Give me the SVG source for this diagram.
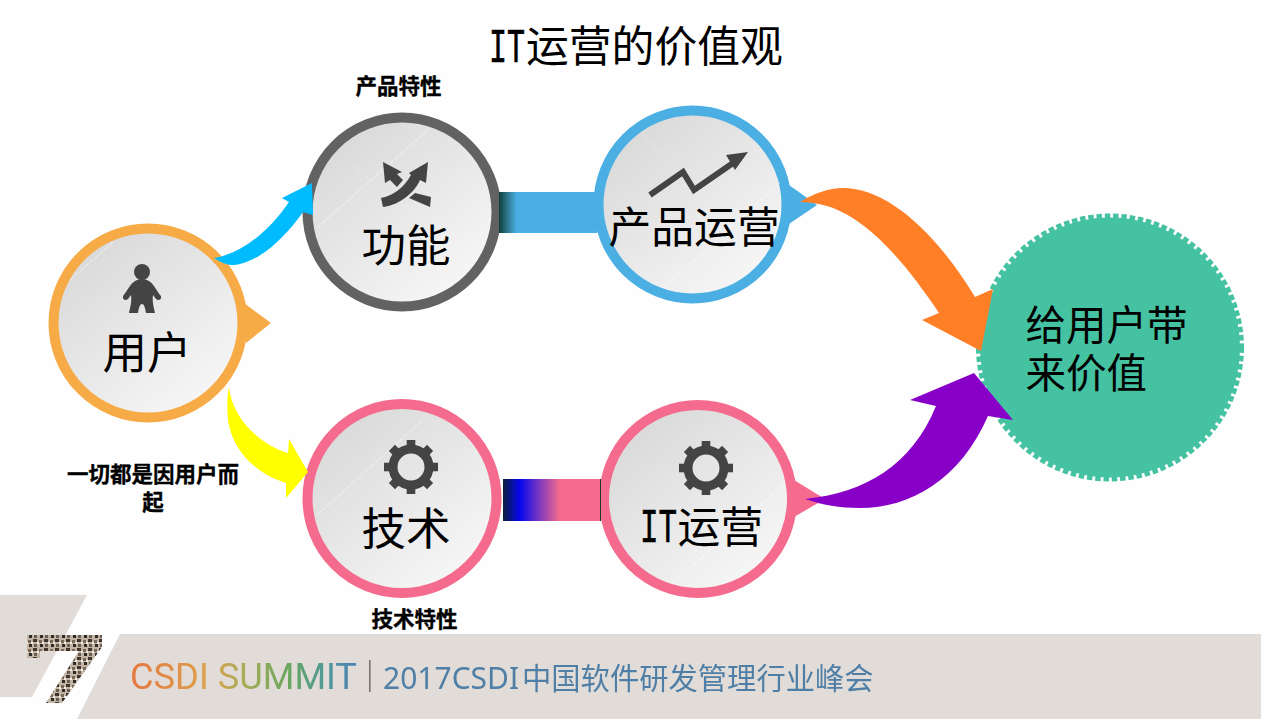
<svg xmlns="http://www.w3.org/2000/svg" width="1279" height="719" viewBox="0 0 1279 719">
<style>
.cn{font-family:"Noto Sans CJK SC","Liberation Sans",sans-serif;fill:#000}
.big{font-size:42.800px}
.two{font-size:44.500px}
.tag{font-size:21.500px;font-weight:700;text-anchor:middle;stroke:#000;stroke-width:.35}
.it{font-family:"Liberation Mono","Noto Sans CJK SC",monospace;fill:#000;stroke:#000;stroke-width:.7}
.disc{fill:url(#disc);stroke-width:10}
.glint{stroke:#fff;stroke-width:.8;fill:none;stroke-opacity:.8;stroke-dasharray:5 1.5}
.glint2{stroke:#fff;stroke-width:.6;fill:none;stroke-opacity:.45}
.icon{fill:#444}
.iline{fill:none;stroke:#444}
</style>
<defs>
<linearGradient id="disc" x1="0.15" y1="0.1" x2="0.85" y2="0.95">
<stop offset="0" stop-color="#d9d9d9"/><stop offset="1" stop-color="#f8f8f8"/>
</linearGradient>
<linearGradient id="barBlue" gradientUnits="userSpaceOnUse" x1="499" y1="0" x2="597" y2="0">
<stop offset="0" stop-color="#12403a"/><stop offset="0.18" stop-color="#4bafe4"/><stop offset="1" stop-color="#4bafe4"/>
</linearGradient>
<linearGradient id="barPink" gradientUnits="userSpaceOnUse" x1="503" y1="0" x2="601" y2="0">
<stop offset="0" stop-color="#0b1f3a"/><stop offset="0.17" stop-color="#0606f0"/><stop offset="0.58" stop-color="#f56b8d"/><stop offset="1" stop-color="#f56b8d"/>
</linearGradient>
<linearGradient id="summit" gradientUnits="userSpaceOnUse" x1="130" y1="0" x2="357" y2="0">
<stop offset="0" stop-color="#e4773f"/><stop offset="0.35" stop-color="#dda24d"/><stop offset="0.5" stop-color="#a9ab58"/><stop offset="0.7" stop-color="#6aa65f"/><stop offset="0.85" stop-color="#4f9a94"/><stop offset="1" stop-color="#4b80b8"/>
</linearGradient>
<pattern id="faces" patternUnits="userSpaceOnUse" width="11" height="9">
<rect width="11" height="9" fill="#c2b5a6"/>
<rect x="0" y="0" width="4" height="3" fill="#3f352e"/>
<rect x="6" y="1" width="3" height="3" fill="#7a6958"/>
<rect x="1" y="5" width="3" height="3" fill="#6b5d52"/>
<rect x="7" y="5" width="3" height="3" fill="#2f2a28"/>
<rect x="4" y="3" width="2" height="2" fill="#f3eee8"/>
<rect x="9" y="3" width="2" height="2" fill="#f3eee8"/>
</pattern>
<filter id="soft" x="-5%" y="-20%" width="110%" height="140%"><feGaussianBlur stdDeviation="0.45"/></filter>
<path id="tooth" d="M-4.300,-27H4.300V-20H-4.300Z" fill="#444"/>
<g id="gear">
<circle r="18" fill="none" stroke="#444" stroke-width="9"/>
<use href="#tooth"/>
<use href="#tooth" transform="rotate(45)"/>
<use href="#tooth" transform="rotate(90)"/>
<use href="#tooth" transform="rotate(135)"/>
<use href="#tooth" transform="rotate(180)"/>
<use href="#tooth" transform="rotate(225)"/>
<use href="#tooth" transform="rotate(270)"/>
<use href="#tooth" transform="rotate(315)"/>
</g>
</defs>

<rect width="1279" height="719" fill="#fefefe"/>

<g id="footer">
<polygon points="0,595 87,595 32,697 0,697" fill="#e2dcd8"/>
<polygon points="120,634 1261,634 1261,719 77,719" fill="#e2dcd8"/>
<path d="M27,635H102V647L62,703H46L79,651H40V658H27Z" fill="url(#faces)" filter="url(#soft)"/>
<g filter="url(#soft)">
<text x="130" y="689" font-family="Roboto,'Liberation Sans',sans-serif" font-size="37" fill="url(#summit)" textLength="227" lengthAdjust="spacingAndGlyphs">CSDI SUMMIT</text>
<rect x="369" y="660" width="1.600" height="32" fill="#7d736c"/>
<text x="383" y="689" font-family="'Noto Sans','Noto Sans CJK SC',sans-serif" font-size="30" fill="#4f7fa6">2017CSDI</text>
<text x="522" y="689" font-family="'Noto Sans CJK SC',sans-serif" font-size="29.300" fill="#4f7fa6">中国软件研发管理行业峰会</text>
</g>
</g>

<g id="title">
<text class="it" x="489" y="62" font-size="48" textLength="36" lengthAdjust="spacingAndGlyphs">IT</text>
<text class="cn big" x="526" y="62">运营的价值观</text>
</g>

<g id="node-user">
<polygon points="244,303 271,323 246,343" fill="#f6ab46"/>
<circle class="disc" cx="148" cy="323" r="94.500" stroke="#f6ab46"/>
<line class="glint" x1="70" y1="280" x2="113" y2="242"/>
<g class="icon">
<circle cx="142" cy="272" r="8"/>
<path d="M142,279C131,279 128,291 123,296C122,300 126,301 128,299L131,295C132,302 130,308 129,313H138C139,307 140,304 142,304C144,304 145,307 146,313H155C154,308 152,302 153,295L156,299C158,301 162,300 161,296C156,291 153,279 142,279Z"/>
</g>
<text class="cn two" x="102.500" y="369">用户</text>
</g>

<g id="node-feature">
<circle class="disc" cx="402" cy="212" r="94.500" stroke="#626262"/>
<line class="glint" x1="317" y1="228" x2="430" y2="128"/>
<line class="glint2" x1="353" y1="163" x2="397" y2="207"/>
<g class="icon">
<path d="M381,198C392,196 403,189 411,175L409,173L428,162L426,183L420,180C415,192 400,205 383,207Z"/>
<polygon points="383,162 402,172 397,174 403,180 397,187 390,180 385,183"/>
<polygon points="415,193 431,197 430,207 409,198"/>
</g>
<text class="cn two" x="361.500" y="262">功能</text>
</g>

<g id="node-product-ops">
<polygon points="789,185 817,205 789,224" fill="#4bafe4"/>
<circle class="disc" cx="692.500" cy="204.500" r="94" stroke="#4bafe4"/>
<line class="glint" x1="663" y1="288" x2="780" y2="183"/>
<line class="glint2" x1="642" y1="133" x2="663" y2="157"/>
<polyline class="iline" stroke-width="6" points="650,195 683,172 694,190 733,163"/>
<polygon class="icon" points="748,152 726,155 735,170"/>
<text class="cn big" x="608.500" y="243">产品运营</text>
</g>

<g id="node-tech">
<circle class="disc" cx="402" cy="498.500" r="94.500" stroke="#f56b8d"/>
<line class="glint" x1="317" y1="515" x2="423" y2="420"/>
<use href="#gear" x="411" y="467"/>
<text class="cn two" x="361.500" y="545">技术</text>
</g>

<g id="node-it-ops">
<polygon points="794,480 825,499 794,517" fill="#f56b8d"/>
<circle class="disc" cx="698" cy="499" r="94" stroke="#f56b8d"/>
<line class="glint" x1="673" y1="583" x2="785" y2="483"/>
<use href="#gear" x="706" y="468"/>
<text class="it" x="640" y="542" font-size="48" textLength="37" lengthAdjust="spacingAndGlyphs">IT</text>
<text class="cn big" x="677.500" y="543">运营</text>
</g>

<g id="node-value">
<circle cx="1110" cy="347.500" r="130" fill="#45c2a2"/>
<circle cx="1110" cy="347.500" r="131.500" fill="none" stroke="#45c2a2" stroke-width="5" stroke-dasharray="5.500 2.800"/>
<text class="cn" font-size="40.500" x="1025.500" y="340">给用户带</text>
<text class="cn" font-size="40.500" x="1025.500" y="388">来价值</text>
</g>

<g id="connectors">
<rect x="499" y="192" width="98" height="41" fill="url(#barBlue)"/>
<rect x="503" y="479" width="98" height="42" fill="url(#barPink)"/>
<rect x="600" y="479" width="1" height="42" fill="#1c3a2a"/>
<path fill="#00bcff" d="M214,258C240,254 268,233 289,202L282,198L312,183L313,215L303,212C286,236 264,258 240,264C230,267 222,263 214,258Z"/>
<path fill="#ffff00" d="M229,387C232,417 258,444 288,453L289,439L308,472L286,498L286,483C256,474 232,450 228,420C227,408 227,397 229,387Z"/>
<path fill="#ff7f27" d="M800,202C815,193 829,188 843,188C885,188 933,228 975,297L993,289L981,351L922,320L939,313C905,262 865,215 823,205C815,203 808,202 800,202Z"/>
<path fill="#8800c8" d="M805,499C865,493 912,465 936,406L910,400L974,373L1013,420L988,416C960,480 910,508 860,508C840,508 822,505 805,499Z"/>
</g>

<g id="labels">
<text class="cn tag" x="398.500" y="94">产品特性</text>
<text class="cn tag" x="153" y="482">一切都是因用户而</text>
<text class="cn tag" x="153" y="510">起</text>
<text class="cn tag" x="414.500" y="627">技术特性</text>
</g>
</svg>
